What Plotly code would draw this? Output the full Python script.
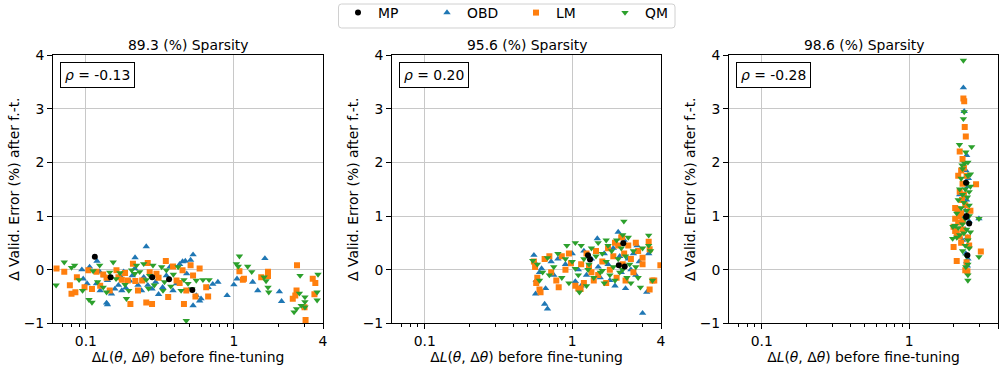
import plotly.graph_objects as go
import math

# ---------------- data ----------------
TITLES = ["89.3 (%) Sparsity", "95.6 (%) Sparsity", "98.6 (%) Sparsity"]
RHOS = ["-0.13", "0.20", "-0.28"]
X_TICKVALS = [0.1, 1, 4]
X_TICKTEXT = ["0.1", "1", "4"]
X_MINOR = [0.07, 0.08, 0.09, 0.2, 0.3, 0.4, 0.5, 0.6, 0.7, 0.8, 0.9, 2, 3]
Y_TICKVALS = [-1, 0, 1, 2, 3, 4]

MP_89 = [(0.115, 0.24), (0.147, -0.14), (0.281, -0.14), (0.365, -0.18), (0.524, -0.38)]
OBD_89 = [(0.256, 0.43), (0.53, 0.28), (0.51, 0.18), (0.45, 0.15), (0.47, 0.16), (0.43, 0.10), (1.62, 0.21),
          (0.119, 0.16), (0.106, 0.05), (0.094, 0.0), (0.124, -0.04), (0.134, -0.11), (0.14, -0.2), (0.118, -0.26),
          (0.125, -0.39), (0.138, -0.62), (0.14, -0.65), (0.149, -0.45), (0.157, -0.36), (0.166, -0.29),
          (0.175, -0.39), (0.186, -0.34), (0.198, -0.21), (0.206, -0.11), (0.214, 0.02), (0.225, -0.29),
          (0.238, -0.39), (0.246, -0.14), (0.262, -0.29), (0.28, -0.36), (0.296, -0.23), (0.31, -0.46),
          (0.33, -0.33), (0.35, -0.11), (0.37, 0.05), (0.388, -0.39), (0.41, -0.26), (0.48, -0.075),
          (0.53, -0.67), (0.557, -0.48), (0.587, -0.58), (0.6, -0.54), (0.67, -0.33), (0.78, -0.23),
          (0.9, -0.48), (1.0, -0.28), (1.34, -0.23), (1.45, -0.39), (2.03, -0.41), (2.1, -0.59),
          (0.17, -0.11), (0.18, -0.04), (0.102, -0.26), (0.096, -0.17), (0.215, 0.225), (0.72, -0.27), (1.05, -0.17)]
LM_89 = [(0.0634, 0.02), (0.0715, -0.04), (0.078, -0.29), (0.085, -0.42), (0.087, -0.14), (0.098, -0.33),
         (0.104, -0.01), (0.11, -0.36), (0.118, -0.04), (0.131, -0.09), (0.138, -0.15), (0.145, -0.39),
         (0.166, -0.14), (0.175, -0.19), (0.184, -0.06), (0.192, -0.2), (0.2, -0.64), (0.208, 0.11),
         (0.216, -0.21), (0.225, -0.39), (0.24, -0.2), (0.256, -0.61), (0.262, 0.125), (0.28, -0.64),
         (0.3, -0.075), (0.31, -0.15), (0.347, 0.16), (0.36, -0.51), (0.388, 0.06), (0.41, -0.2), (0.45, -0.01),
         (0.46, -0.64), (0.477, -0.39), (0.51, 0.08), (0.53, -0.11), (0.55, -0.5), (0.587, 0.02), (0.65, -0.33),
         (0.67, -0.5), (1.09, -0.03), (1.15, -0.19), (1.17, -0.17), (1.53, -0.14), (1.7, -0.04), (1.7, -0.12),
         (2.67, 0.08), (2.5, -0.54), (2.6, -0.48), (2.65, -0.39), (3.0, -0.7), (3.05, -0.94), (3.41, -0.17),
         (3.55, -0.25), (3.5, -0.46), (0.161, -0.01), (0.08, -0.45), (0.27, -0.05), (0.43, -0.25), (0.125, -0.3)]
QM_89 = [(0.063, -0.29), (0.0715, 0.14), (0.08, 0.04), (0.084, 0.08), (0.09, -0.19), (0.095, -0.39),
         (0.105, -0.56), (0.11, -0.61), (0.112, -0.025), (0.124, 0.08), (0.12, -0.23), (0.131, -0.33),
         (0.138, -0.42), (0.153, 0.14), (0.16, -0.17), (0.17, -0.06), (0.184, -0.28), (0.195, -0.39),
         (0.204, -0.01), (0.214, -0.075), (0.22, 0.08), (0.231, -0.04), (0.246, 0.11), (0.256, -0.19),
         (0.27, -0.11), (0.284, 0.08), (0.29, -0.29), (0.325, 0.05), (0.332, -0.39), (0.35, -0.01),
         (0.375, -0.31), (0.39, -0.09), (0.42, 0.05), (0.44, -0.39), (0.46, -0.19), (0.477, -0.95),
         (0.49, -0.26), (0.52, -0.36), (0.557, -0.2), (0.618, -0.19), (0.68, -0.19), (1.09, 0.25), (1.04, 0.11),
         (1.07, 0.06), (1.24, 0.06), (1.32, -0.04), (1.6, -0.14), (1.65, -0.21), (1.7, -0.33), (1.72, -0.42),
         (2.8, -0.11), (3.7, -0.09), (3.65, -0.42), (3.65, -0.57), (2.77, -0.44), (3.02, -0.51), (3.02, -0.6),
         (3.02, -0.7), (2.55, -0.79), (2.65, -0.73), (2.85, -0.67), (0.188, -0.54), (0.34, -0.23),
         (0.145, -0.05), (0.265, -0.35)]

MP_95 = [(1.28, 0.27), (1.32, 0.19), (2.22, 0.49), (2.07, 0.08), (2.27, 0.06)]
OBD_95 = [(0.55, 0.27), (0.56, 0.13), (0.565, -0.45), (0.57, -0.2), (0.6, -0.05), (0.65, -0.64), (0.68, -0.73),
          (0.62, 0.02), (0.66, -0.35), (0.75, -0.1), (0.8, 0.2), (0.9, 0.1), (1.0, 0.3), (1.05, -0.22), (1.1, 0.0),
          (1.2, 0.35), (1.25, -0.1), (1.35, 0.2), (1.48, 0.58), (1.5, 0.05), (1.55, -0.15), (1.65, 0.3),
          (1.75, 0.1), (1.8, -0.2), (1.9, 0.4), (2.05, 0.7), (2.1, 0.25), (2.15, -0.05), (2.25, 0.55),
          (2.3, -0.35), (2.4, 0.2), (2.5, 0.0), (2.6, 0.3), (2.7, -0.1), (2.75, 0.45), (3.0, -0.81),
          (3.2, -0.42), (3.3, 0.3), (1.15, -0.3), (1.95, -0.3), (0.72, 0.15), (2.85, 0.15)]
LM_95 = [(0.55, 0.15), (0.56, 0.05), (0.57, -0.25), (0.6, -0.37), (0.61, -0.42), (0.58, -0.15), (0.65, 0.2),
         (0.7, 0.25), (0.72, -0.05), (0.78, -0.2), (0.81, -0.33), (0.85, 0.25), (0.9, 0.0), (0.95, 0.3),
         (1.05, -0.3), (1.1, -0.35), (1.14, -0.36), (1.15, 0.1), (1.2, -0.25), (1.25, 0.3), (1.3, 0.05),
         (1.4, -0.2), (1.45, 0.35), (1.5, -0.1), (1.6, 0.15), (1.7, -0.25), (1.75, 0.4), (1.8, 0.0), (1.9, 0.25),
         (2.0, -0.15), (2.05, 0.45), (2.15, 0.6), (2.18, 0.61), (2.2, 0.1), (2.25, 0.3), (2.3, -0.2),
         (2.4, 0.45), (2.5, 0.2), (2.6, -0.05), (2.7, 0.5), (2.8, 0.35), (3.0, 0.1), (3.3, 0.52), (3.35, 0.38),
         (3.35, -0.37), (3.5, -0.2), (3.6, -0.2), (3.96, 0.08), (3.0, 0.22), (1.35, -0.05), (0.98, 0.12),
         (1.95, 0.5)]
QM_95 = [(0.54, 0.17), (0.58, 0.1), (0.6, -0.2), (0.63, -0.05), (0.68, 0.22), (0.7, -0.1), (0.75, 0.05),
         (0.8, 0.3), (0.85, -0.15), (0.9, 0.2), (0.95, -0.25), (1.0, 0.15), (1.05, 0.5), (1.1, -0.1),
         (1.15, 0.45), (1.2, 0.2), (1.25, -0.3), (1.3, 0.1), (1.35, 0.4), (1.4, -0.15), (1.45, 0.25), (1.5, 0.5),
         (1.55, -0.05), (1.6, 0.3), (1.65, -0.25), (1.7, 0.15), (1.75, 0.45), (1.8, -0.1), (1.85, 0.35),
         (1.9, 0.05), (1.95, -0.2), (2.0, 0.55), (2.05, 0.2), (2.1, -0.05), (2.15, 0.4), (2.2, 0.0), (2.24, 0.9),
         (2.3, 0.25), (2.35, -0.15), (2.4, 0.6), (2.45, 0.1), (2.5, -0.25), (2.6, 0.35), (2.7, 0.05),
         (2.9, -0.33), (3.0, 0.4), (3.3, 0.64), (3.3, 0.45), (3.4, 0.35), (3.5, -0.2), (1.12, -0.42),
         (1.28, 0.0), (0.92, 0.45), (1.7, 0.55), (2.8, -0.15), (2.2, 0.65), (1.05, 0.02), (1.6, -0.02)]

MP_98 = [(2.43, 1.62), (2.43, 0.98), (2.45, 1.0), (2.55, 0.86), (2.48, 0.27)]
OBD_98 = [(2.33, 3.39), (2.36, 2.95), (2.45, 2.13), (2.42, 1.85), (2.5, 1.55), (2.45, 1.3), (2.4, 1.1),
          (2.97, 0.95), (2.48, 0.6), (2.5, 0.45), (2.5, 0.2), (2.48, 0.07), (2.45, 0.15), (2.4, 0.75),
          (2.35, 1.0), (2.52, 1.7), (2.2, 1.4), (2.3, 0.55), (2.55, 0.9), (2.42, 0.3)]
LM_98 = [(2.33, 3.19), (2.36, 3.14), (2.38, 2.66), (2.42, 2.48), (2.2, 2.2), (2.3, 2.06), (2.25, 1.85),
         (2.15, 1.75), (2.3, 1.6), (2.84, 1.59), (2.2, 1.45), (2.35, 1.4), (2.28, 1.3), (2.12, 1.12), (2.4, 1.2),
         (2.25, 1.05), (2.05, 0.95), (2.15, 0.88), (2.0, 0.8), (2.05, 0.72), (2.1, 0.68), (2.3, 0.75),
         (2.2, 0.62), (2.5, 0.6), (2.0, 0.42), (2.1, 0.16), (3.06, 0.34), (2.45, 0.14), (2.4, -0.01),
         (2.48, -0.03), (2.25, 0.5), (2.55, 0.45), (2.35, 1.9), (2.45, 1.75), (2.18, 1.0), (2.6, 1.1),
         (2.3, 0.9), (2.05, 1.15)]
QM_98 = [(2.33, 3.9), (2.36, 2.94), (2.33, 2.81), (2.19, 2.33), (2.65, 2.29), (2.42, 2.19), (2.38, 1.98),
         (2.3, 1.88), (2.5, 1.75), (2.6, 1.78), (2.25, 1.7), (2.45, 1.6), (2.4, 1.5), (2.2, 1.5), (2.55, 1.45),
         (2.3, 1.4), (2.48, 1.35), (2.15, 1.3), (2.35, 1.25), (2.55, 1.2), (2.25, 1.15), (2.45, 1.1),
         (2.1, 1.05), (2.4, 0.95), (2.55, 1.0), (2.3, 0.85), (2.05, 0.82), (1.98, 0.8), (2.15, 0.78),
         (2.45, 0.75), (2.6, 0.7), (2.35, 0.68), (2.2, 0.65), (1.97, 0.58), (2.1, 0.6), (2.5, 0.55), (2.4, 0.45),
         (2.55, 0.4), (2.3, 0.35), (2.97, 0.95), (2.97, 0.24), (2.45, 0.25), (2.5, 0.1), (2.5, -0.1),
         (2.5, -0.2), (2.42, 0.05), (2.6, 1.55), (2.28, 1.95), (2.5, 2.0)]

PANELS = [
    {"MP": MP_89, "OBD": OBD_89, "LM": LM_89, "QM": QM_89},
    {"MP": MP_95, "OBD": OBD_95, "LM": LM_95, "QM": QM_95},
    {"MP": MP_98, "OBD": OBD_98, "LM": LM_98, "QM": QM_98},
]

# ---------------- styles ----------------
FONT = "DejaVu Sans"
FS = 13.9
STYLE = {
    "OBD": dict(color="#1f77b4", symbol="triangle-up", size=6.5, rank=2),
    "LM": dict(color="#ff7f0e", symbol="square", size=6, rank=3),
    "QM": dict(color="#2ca02c", symbol="triangle-down", size=6.5, rank=4),
    "MP": dict(color="#000000", symbol="circle", size=6, rank=1),
}
DRAW_ORDER = ["OBD", "LM", "QM", "MP"]
X_DOMAINS = [[0.053, 0.323], [0.392, 0.661], [0.729, 0.998]]
Y_DOMAIN = [0.119, 0.8501]
W, H = 1000, 367

fig = go.Figure()
for i, panel in enumerate(PANELS):
    sfx = "" if i == 0 else str(i + 1)
    for name in DRAW_ORDER:
        st = STYLE[name]
        pts = panel[name]
        fig.add_trace(go.Scatter(
            x=[p[0] for p in pts], y=[p[1] for p in pts],
            mode="markers", name=name, legendgroup=name, showlegend=(i == 0),
            legendrank=st["rank"],
            marker=dict(color=st["color"], symbol=st["symbol"], size=st["size"], line=dict(width=0)),
            xaxis="x" + sfx, yaxis="y" + sfx,
        ))

# legend frame (rounded box) drawn as a shape in paper coordinates
def rounded_box(x0, y0, x1, y1, r):
    def P(px, py):
        return "%.5f,%.5f" % (px / W, 1 - py / H)
    return ("M " + P(x0 + r, y0) + " L " + P(x1 - r, y0) + " Q " + P(x1, y0) + " " + P(x1, y0 + r) +
            " L " + P(x1, y1 - r) + " Q " + P(x1, y1) + " " + P(x1 - r, y1) +
            " L " + P(x0 + r, y1) + " Q " + P(x0, y1) + " " + P(x0, y1 - r) +
            " L " + P(x0, y0 + r) + " Q " + P(x0, y0) + " " + P(x0 + r, y0) + " Z")

layout = dict(
    width=W, height=H,
    margin=dict(l=0, r=0, t=0, b=0, autoexpand=False),
    paper_bgcolor="white", plot_bgcolor="white",
    font=dict(family=FONT, size=FS, color="black"),
    legend=dict(orientation="h", x=0.338, xanchor="left", y=1.008, yanchor="top",
                borderwidth=0, bgcolor="rgba(0,0,0,0)", entrywidth=44, entrywidthmode="pixels",
                font=dict(size=FS), itemsizing="trace"),
    annotations=[],
    shapes=[dict(type="path", xref="paper", yref="paper",
                 path=rounded_box(338.5, 4, 675, 28, 3),
                 line=dict(color="#d0d0d0", width=1), fillcolor="rgba(255,255,255,0.8)", layer="below")],
)
for i in range(3):
    sfx = "" if i == 0 else str(i + 1)
    layout["xaxis" + sfx] = dict(
        type="log", domain=X_DOMAINS[i], anchor="y" + sfx, automargin=False,
        range=[math.log10(0.06), math.log10(4)],
        tickmode="array", tickvals=X_TICKVALS, ticktext=X_TICKTEXT,
        ticks="outside", ticklen=5, tickwidth=1, tickcolor="black",
        showline=True, linecolor="black", linewidth=1, mirror=True,
        showgrid=True, gridcolor="#c8c8c8", gridwidth=1, zeroline=False,
        minor=dict(tickmode="array", tickvals=X_MINOR, ticks="outside", ticklen=3,
                   tickwidth=0.8, tickcolor="black", showgrid=False),
        title=dict(text="Δ<i>L</i>(<i>θ</i>, Δ<i>θ</i>) before fine-tuning", font=dict(size=FS), standoff=2),
    )
    layout["yaxis" + sfx] = dict(
        domain=Y_DOMAIN, anchor="x" + sfx, range=[-1, 4], automargin=False,
        tickmode="array", tickvals=Y_TICKVALS,
        ticks="outside", ticklen=5, tickwidth=1, tickcolor="black",
        showline=True, linecolor="black", linewidth=1, mirror=True,
        showgrid=True, gridcolor="#c8c8c8", gridwidth=1, zeroline=False,
        title=dict(text="Δ Valid. Error (%) after f.-t.", font=dict(size=FS), standoff=0),
    )
    layout["annotations"].append(dict(
        text=TITLES[i], xref="x%s domain" % sfx, yref="paper", x=0.5, y=0.877,
        xanchor="center", yanchor="middle", showarrow=False, font=dict(size=FS)))
    layout["annotations"].append(dict(
        text="<i>ρ</i> = " + RHOS[i], xref="x%s domain" % sfx, yref="y%s domain" % sfx,
        x=0.026, y=0.974, xanchor="left", yanchor="top", showarrow=False,
        bordercolor="black", borderwidth=1, borderpad=4, bgcolor="white", font=dict(size=FS)))

fig.update_layout(**layout)
fig.write_html("out.html")
